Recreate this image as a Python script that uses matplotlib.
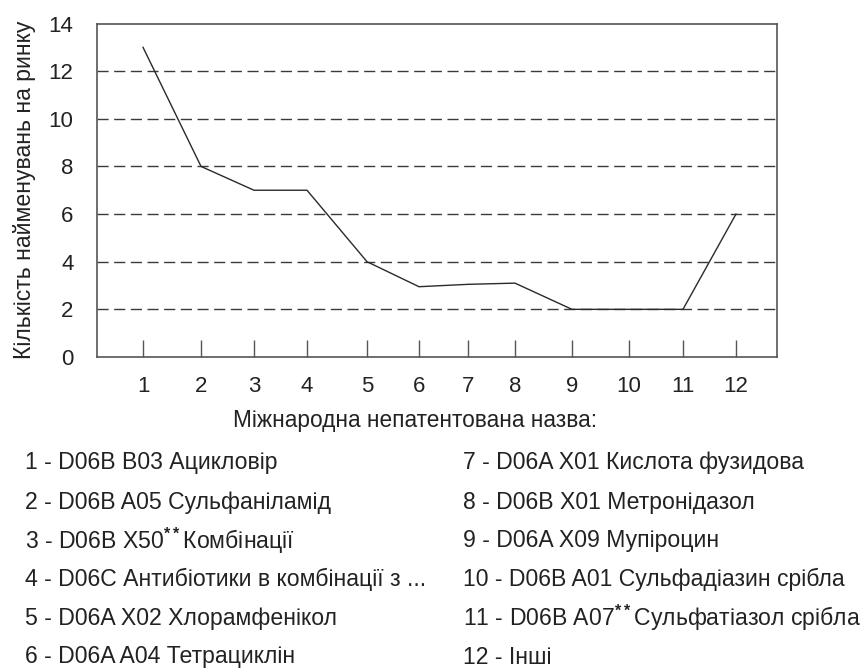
import numpy as np
import matplotlib
matplotlib.use('Agg')
import matplotlib.pyplot as plt

plt.rcParams['font.family'] = ['Liberation Sans', 'DejaVu Sans']
plt.rcParams['mathtext.fontset'] = 'custom'
plt.rcParams['mathtext.rm'] = 'Liberation Sans'
plt.rcParams['mathtext.bf'] = 'Liberation Sans:bold'

# ── Data
categories = ['1', '2', '3', '4', '5', '6', '7', '8', '9', '10', '11', '12']
counts = [13, 8, 7, 7, 4, 2.95, 3.05, 3.1, 2, 2, 2, 6]

legend_left = [
    "1 - D06B B03 Ацикловір",
    "2 - D06B A05 Сульфаніламід",
    "3 - D06B X50$^{\\mathbf{**}}$Комбінації",
    "4 - D06C Антибіотики в комбінації з ...",
    "5 - D06A X02 Хлорамфенікол",
    "6 - D06A A04 Тетрациклін",
]
legend_right = [
    "7 - D06A X01 Кислота фузидова",
    "8 - D06B X01 Метронідазол",
    "9 - D06A X09 Мупіроцин",
    "10 - D06B A01 Сульфадіазин срібла",
    "11 - D06B A07$^{\\mathbf{**}}$Сульфатіазол срібла",
    "12 - Інші",
]

# ── Layout (tick positions in the original scan are uneven)
tick_pos = [46, 104, 157, 210, 270, 322, 371, 418, 475, 532, 586, 639]

fig = plt.figure(figsize=(8.61, 6.70), dpi=100)
ax = fig.add_axes([0.1127, 0.4672, 0.7897, 0.4977])

ax.plot(tick_pos, counts, color='#2a2a2a', lw=1.0)

ax.set_xlim(0, 680)
ax.set_ylim(0, 14)
ax.set_yticks(range(0, 15, 2))
ax.set_xticks(tick_pos)
ax.set_xticklabels(categories)

for y in range(2, 13, 2):
    ax.axhline(y, color='#3a3a3a', lw=1.0, ls=(0, (8, 4)), zorder=0)

for s in ax.spines.values():
    s.set_color('#555555')
    s.set_linewidth(1.2)

ax.tick_params(axis='x', direction='in', length=12, width=1.0, color='#555555',
               labelsize=16, pad=14, labelcolor='#222222')
ax.tick_params(axis='y', length=0, labelsize=16, pad=17, labelcolor='#222222')

ax.set_ylabel("Кількість найменувань на ринку", fontsize=16.6, color='#222222', labelpad=9)

fig.text(415 / 861, 1 - 421 / 670, "Міжнародна непатентована назва:",
         ha='center', va='center', fontsize=16.3, color='#222222')

ys = [463, 502, 541, 579, 618, 657]
for txt, y in zip(legend_left, ys):
    fig.text(25 / 861, 1 - y / 670, txt, ha='left', va='center',
             fontsize=16.6, color='#222222')
for txt, y in zip(legend_right, ys):
    fig.text(463 / 861, 1 - y / 670, txt, ha='left', va='center',
             fontsize=16.6, color='#222222')

plt.savefig("out.png", dpi=100)
plt.close()
